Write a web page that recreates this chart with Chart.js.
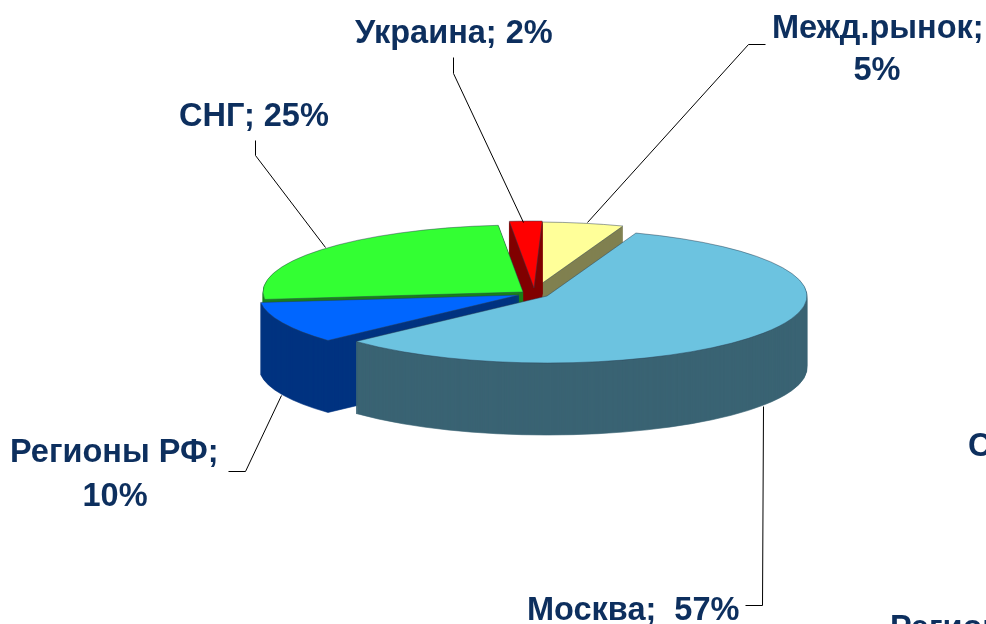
<!DOCTYPE html>
<html>
<head>
<meta charset="utf-8">
<script src="https://cdn.jsdelivr.net/npm/chart.js@4"></script>
<style>
  html, body { margin: 0; padding: 0; background: #fff; overflow: hidden; }
  canvas { display: block; }
</style>
</head>
<body>
<canvas id="piechart" width="986" height="624"></canvas>
<script>
// Chart data
const categories = ["Москва", "Регионы РФ", "СНГ", "Украина", "Межд.рынок"];
const shares = [57, 10, 25, 2, 5];

// Colours of the top faces and of the side walls
const topColors = ["#6CC3E0", "#0066FF", "#33FF33", "#FF0000", "#FFFF99"];
const sideColors = ["#3A6373", "#003380", "#1A801A", "#800000", "#808050"];

// How far each slice is pulled out of the pie, in screen pixels
const pullX = [17, -11, -7, 4, 4];
const pullY = [3, 2, -1, -5, -4];
// Back slices first so the front ones cover them
const drawOrder = [4, 3, 2, 1, 0];

const centerX = 530;
const centerY = 293;
const pieRadius = 260;
const squash = 0.2577;
const depth = 72;

// Label layout: [text, x, baseline, align]
const labelColor = "#0D2F5E";
const labelFont = "bold 32.5px 'Liberation Sans', Arial, sans-serif";
const labelRows = [
  [categories[3] + "; " + shares[3] + "%", 355, 43, "left"],
  [categories[4] + ";", 772, 38, "left"],
  [shares[4] + "%", 877, 80, "center"],
  [categories[2] + "; " + shares[2] + "%", 179, 126, "left"],
  [categories[1] + ";", 10, 462, "left"],
  [shares[1] + "%", 115, 506, "center"],
  [categories[0] + ";  " + shares[0] + "%", 527, 620, "left"],
  // next chart on the slide, cut off by the picture edge
  [categories[2] + "; " + shares[2] + "%", 968, 456, "left"],
  [categories[1] + ";", 890, 638, "left"],
];

// Leader lines from the labels to the slices
const leaders = [
  [[453, 57], [453, 73], [523, 222]],
  [[765, 44], [748, 44], [587, 222]],
  [[255, 140], [255, 155], [325, 247]],
  [[228, 471], [245, 471], [281, 395]],
  [[745, 605], [762, 605], [763, 406]],
];

// Draws the pie tilted, with side walls, using the arcs Chart.js laid out
const tiltedPie = {
  id: "tiltedPie",
  beforeDatasetsDraw(chart) {
    const ctx = chart.ctx;
    const arcs = chart.getDatasetMeta(0).data;
    drawOrder.forEach(function (i) {
      const arc = arcs[i];
      const faceOptions = arc.options;
      const place = function (drop) {
        ctx.save();
        ctx.translate(centerX + pullX[i], centerY + pullY[i] + drop);
        ctx.scale(1, squash);
        ctx.translate(-arc.x, -arc.y);
        arc.draw(ctx);
        ctx.restore();
      };
      arc.options = {
        ...faceOptions,
        backgroundColor: sideColors[i],
        borderColor: sideColors[i],
        borderWidth: 1,
      };
      for (let drop = depth; drop > 0; drop--) {
        place(drop);
      }
      arc.options = faceOptions;
      place(0);
    });
    return false;
  },
  afterDraw(chart) {
    const ctx = chart.ctx;
    ctx.save();
    ctx.strokeStyle = "#000";
    ctx.lineWidth = 1;
    leaders.forEach(function (points) {
      ctx.beginPath();
      points.forEach(function (p, n) {
        if (n === 0) ctx.moveTo(p[0] + 0.5, p[1] + 0.5);
        else ctx.lineTo(p[0] + 0.5, p[1] + 0.5);
      });
      ctx.stroke();
    });
    ctx.fillStyle = labelColor;
    ctx.font = labelFont;
    ctx.textBaseline = "alphabetic";
    labelRows.forEach(function (row) {
      ctx.textAlign = row[3];
      ctx.fillText(row[0], row[1], row[2]);
    });
    ctx.restore();
  },
};

new Chart(document.getElementById("piechart").getContext("2d"), {
  type: "pie",
  data: {
    labels: categories,
    datasets: [
      {
        data: shares,
        backgroundColor: topColors,
        borderColor: "rgba(40, 60, 80, 0.75)",
        borderWidth: 1,
      },
    ],
  },
  options: {
    responsive: false,
    animation: false,
    rotation: 20,
    radius: pieRadius,
    plugins: {
      legend: { display: false },
      tooltip: { enabled: false },
    },
  },
  plugins: [tiltedPie],
});
</script>
</body>
</html>
